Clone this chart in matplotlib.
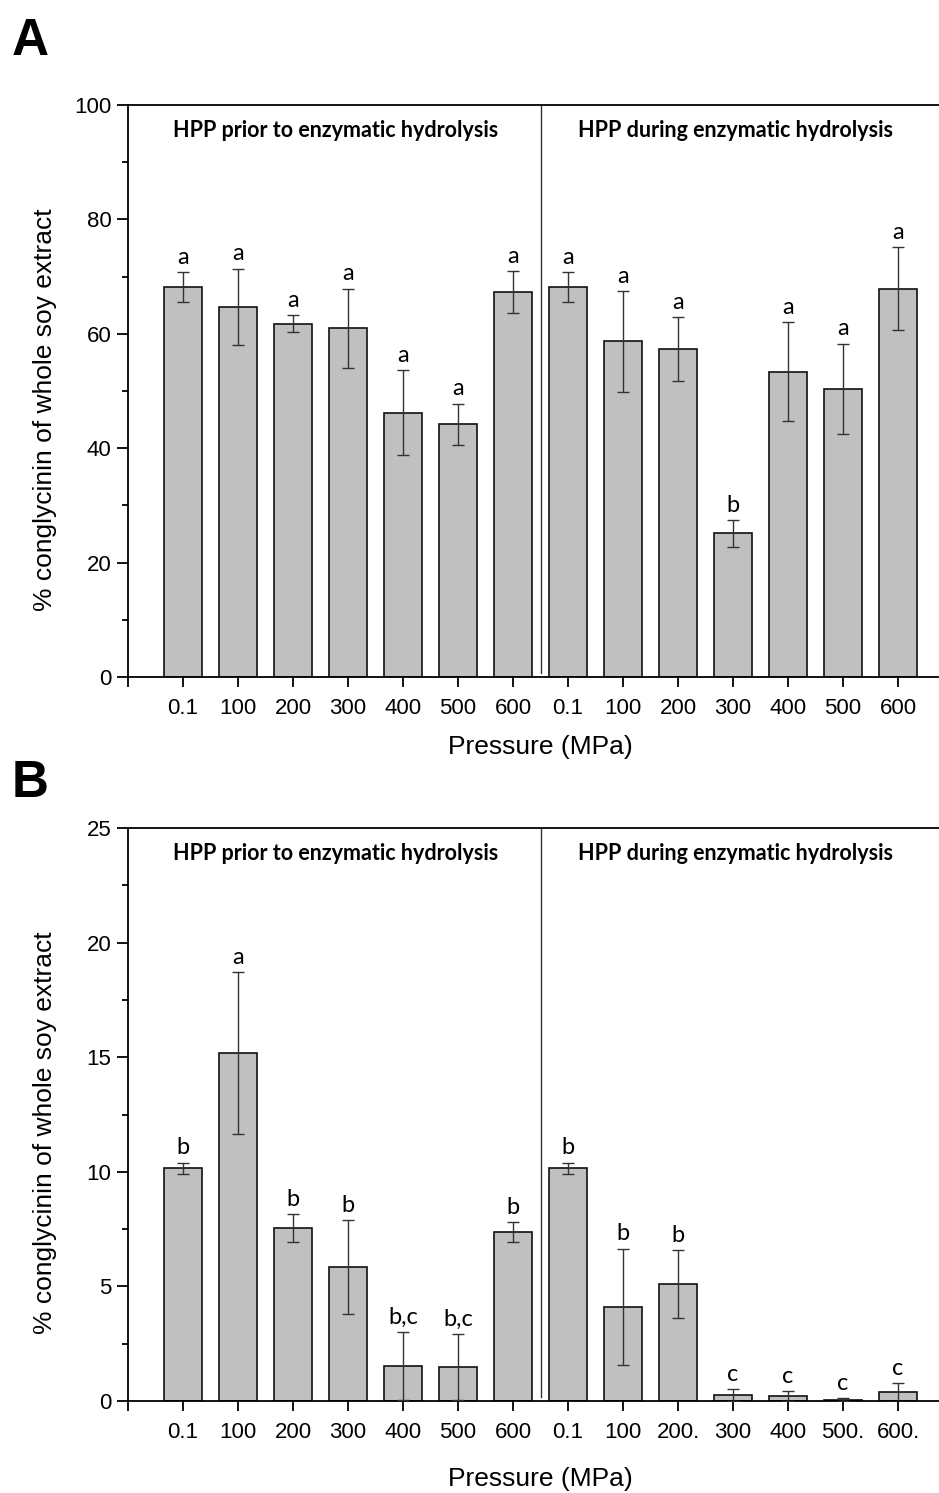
import numpy as np
import matplotlib
matplotlib.use("Agg")
import matplotlib.pyplot as plt
from matplotlib.ticker import MultipleLocator

plt.rcParams['font.family'] = ['Liberation Sans', 'DejaVu Sans']

# pressures (MPa) for each group of bars
tick_labels_a = ["0.1", "100", "200", "300", "400", "500", "600"] * 2
tick_labels_b = ["0.1", "100", "200", "300", "400", "500", "600",
                 "0.1", "100", "200.", "300", "400", "500.", "600."]

# panel A: HPP prior (first 7) then HPP during (last 7)
mean_a = [68.2, 64.7, 61.8, 61.0, 46.2, 44.2, 67.3,
          68.2, 58.7, 57.3, 25.1, 53.4, 50.4, 67.9]
err_a = [2.6, 6.7, 1.4, 6.9, 7.4, 3.6, 3.6,
         2.6, 8.8, 5.6, 2.3, 8.6, 7.9, 7.3]
letters_a = ["a", "a", "a", "a", "a", "a", "a",
             "a", "a", "a", "b", "a", "a", "a"]

# panel B
mean_b = [10.15, 15.17, 7.55, 5.85, 1.53, 1.48, 7.37,
          10.15, 4.12, 5.10, 0.25, 0.20, 0.06, 0.38]
err_b = [0.25, 3.54, 0.6, 2.05, 1.5, 1.45, 0.45,
         0.25, 2.53, 1.5, 0.27, 0.22, 0.06, 0.41]
letters_b = ["b", "a", "b", "b", "b,c", "b,c", "b",
             "b", "b", "b", "c", "c", "c", "c"]

headers = ["HPP prior to enzymatic hydrolysis", "HPP during enzymatic hydrolysis"]

W, H = 939, 1493
fig = plt.figure(figsize=(W / 100, H / 100), dpi=100)


def draw_panel(rect, means, errs, letters, ticklabels, ymax, ymajor, yminor,
               label_offset, xlabel_y):
    ax = fig.add_axes(rect)
    x = np.arange(1, len(means) + 1)
    ax.bar(x, means, width=0.7, color="#c0c0c0", edgecolor="#111111",
           linewidth=1.2, zorder=2)
    ax.errorbar(x, means, yerr=errs, fmt="none", ecolor="#333333",
                elinewidth=1.0, capsize=4, capthick=1.0, zorder=3)
    for xi, m, e, lab in zip(x, means, errs, letters):
        ax.annotate(lab, (xi, m + e), xytext=(0, 3), textcoords="offset points",
                    ha="center", va="bottom", fontsize=17, family="Lato")

    ax.axvline(7.5, ymin=0.007, ymax=1, color="#333333", linewidth=1.0)
    ax.text(3.78, 0.956, headers[0], transform=ax.get_xaxis_transform(),
            ha="center", va="center", fontsize=15.5, weight="bold", family="Lato")
    ax.text(11.05, 0.956, headers[1], transform=ax.get_xaxis_transform(),
            ha="center", va="center", fontsize=15.5, weight="bold", family="Lato")

    ax.set_xlim(0, 14.745)
    ax.set_ylim(0, ymax)
    ax.set_xticks(np.arange(0, 15))
    ax.set_xticklabels([""] + ticklabels)
    ax.yaxis.set_major_locator(MultipleLocator(ymajor))
    ax.yaxis.set_minor_locator(MultipleLocator(yminor))

    for side in ["left", "bottom", "top"]:
        ax.spines[side].set_linewidth(1.3)
    ax.spines["right"].set_visible(False)
    ax.tick_params(axis="x", direction="out", length=7.5, width=1.3,
                   labelsize=16, pad=7.5)
    ax.tick_params(axis="y", which="major", direction="out", length=8, width=1.3,
                   labelsize=16, pad=4)
    ax.tick_params(axis="y", which="minor", direction="out", length=4, width=1.3)

    ax.set_ylabel("% conglycinin of whole soy extract", fontsize=19)
    ax.yaxis.set_label_coords(-0.0875, label_offset)
    ax.set_xlabel("Pressure (MPa)", fontsize=19)
    ax.xaxis.set_label_coords(0.508, xlabel_y)
    return ax


ax_a = draw_panel([128 / W, 1 - 677 / H, 811 / W, 572 / H], mean_a, err_a, letters_a,
                  tick_labels_a, 100, 20, 10, 0.467, -58 / 572)
ax_b = draw_panel([128 / W, 1 - 1401 / H, 811 / W, 573 / H], mean_b, err_b, letters_b,
                  tick_labels_b, 25, 5, 2.5, 0.468, -66 / 573)

fig.text(12 / W, 1 - 17 / H, "A", ha="left", va="top", fontsize=37, weight="bold")
fig.text(12 / W, 1 - 759 / H, "B", ha="left", va="top", fontsize=37, weight="bold")

fig.savefig("out.png", dpi=100)
